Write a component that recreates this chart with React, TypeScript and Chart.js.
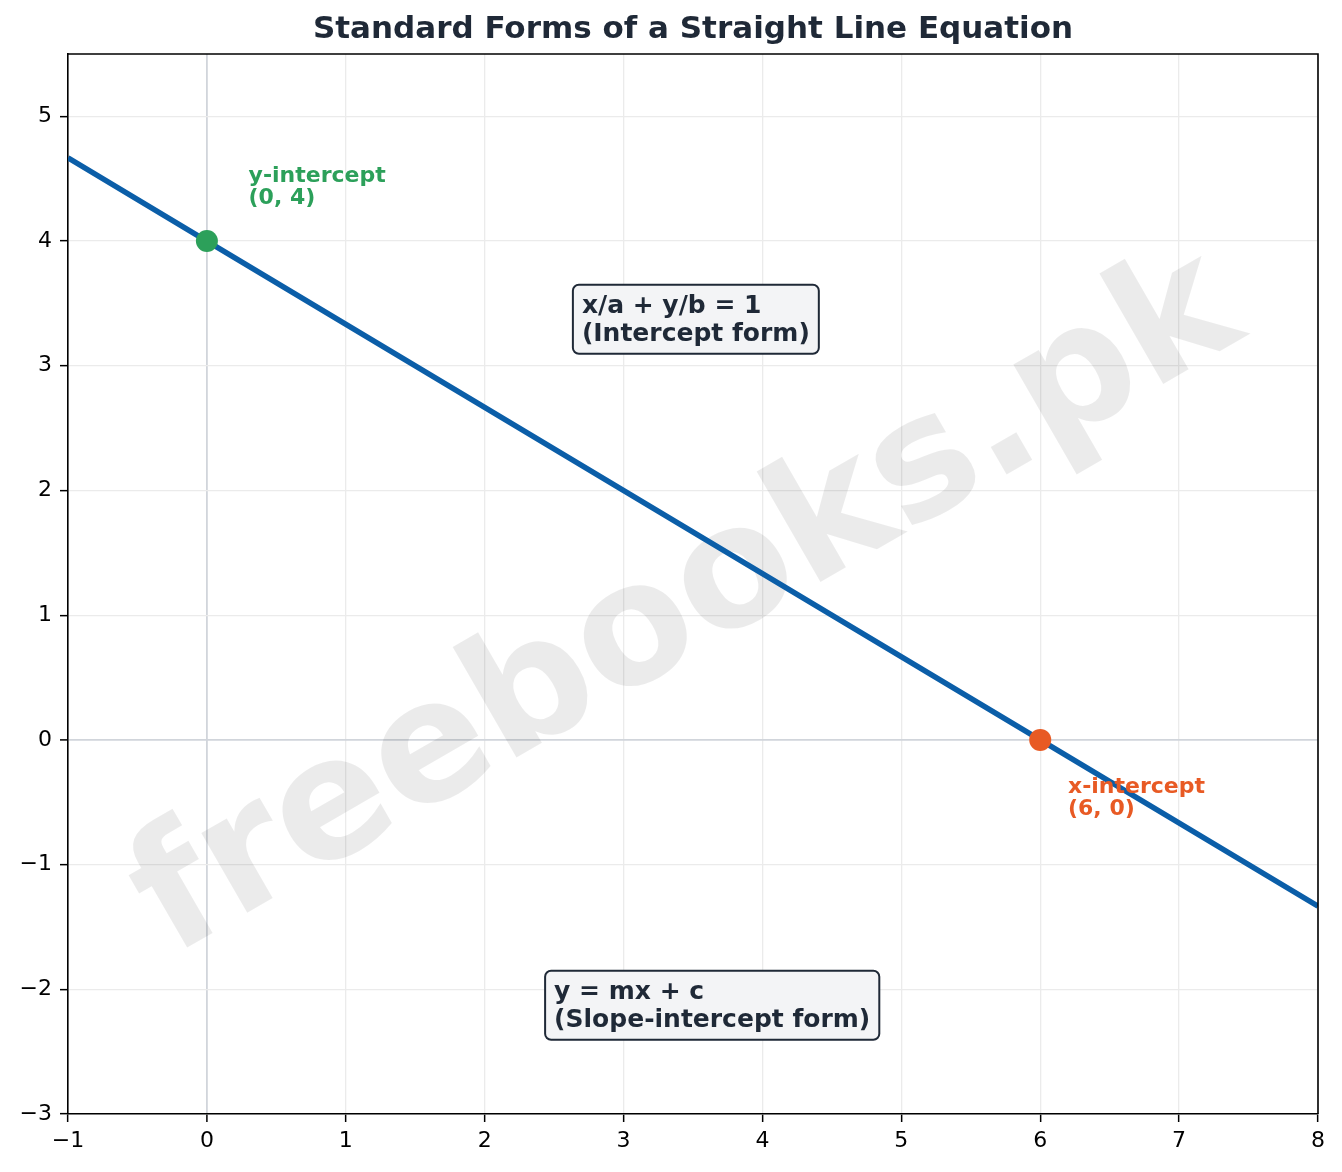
import { useEffect, useRef } from 'react';
import { Chart, registerables, Plugin } from 'chart.js';

Chart.register(...registerables);

// line y = 4 - 2x/3, read at the plot edges and the intercepts
const lineX = [-1, 0, 6, 8];
const lineY = [4.667, 4, 0, -1.333];

const pointX = [0, 6];
const pointY = [4, 0];
const pointColors = ['#2ca05a', '#e85a24'];

const labelText = [['y-intercept', '(0, 4)'], ['x-intercept', '(6, 0)']];
const labelX = [0.3, 6.2];
const labelY = [4.3, -0.6];

const boxText = [['x/a + y/b = 1', '(Intercept form)'], ['y = mx + c', '(Slope-intercept form)']];
const boxX = [2.7, 2.5];
const boxY = [3.2, -2.3];

const xTicks = [-1, 0, 1, 2, 3, 4, 5, 6, 7, 8];
const yTicks = [-3, -2, -1, 0, 1, 2, 3, 4, 5];

const TITLE = 'Standard Forms of a Straight Line Equation';
const FONT = "'DejaVu Sans', sans-serif";
const DARK = '#1f2937';

const fmt = (v: number) => (v < 0 ? '\u2212' + Math.abs(v) : String(v));

const decorPlugin: Plugin = {
    id: 'decor',
    beforeDatasetsDraw(chart) {
        const { ctx, chartArea } = chart;
        // watermark
        ctx.save();
        ctx.beginPath();
        ctx.rect(chartArea.left, chartArea.top, chartArea.right - chartArea.left, chartArea.bottom - chartArea.top);
        ctx.clip();
        ctx.translate(688, 608);
        ctx.rotate(-Math.PI / 6);
        ctx.font = `bold 168px ${FONT}`;
        ctx.fillStyle = 'rgba(0, 0, 0, 0.08)';
        ctx.textAlign = 'center';
        ctx.textBaseline = 'middle';
        ctx.fillText('freebooks.pk', 0, 0);
        ctx.restore();
    },
    afterDatasetsDraw(chart) {
        const { ctx } = chart;
        const xs = chart.scales.x;
        const ys = chart.scales.y;
        ctx.save();
        ctx.textBaseline = 'alphabetic';
        ctx.textAlign = 'left';

        // point labels
        ctx.font = `bold 22px ${FONT}`;
        labelText.forEach((lines, i) => {
            const px = xs.getPixelForValue(labelX[i]);
            const py = ys.getPixelForValue(labelY[i]);
            ctx.fillStyle = pointColors[i];
            lines.forEach((t, j) => {
                ctx.fillText(t, px, py - (lines.length - 1 - j) * 22);
            });
        });

        // formula boxes
        ctx.font = `bold 25px ${FONT}`;
        const lh = 28;
        const pad = 9;
        boxText.forEach((lines, i) => {
            const px = xs.getPixelForValue(boxX[i]);
            const py = ys.getPixelForValue(boxY[i]);
            const w = Math.max(...lines.map(t => ctx.measureText(t).width));
            const top = py - (lines.length - 1) * lh - 19 - pad;
            const bottom = py + 4 + pad;
            ctx.beginPath();
            ctx.roundRect(px - pad, top, w + pad * 2, bottom - top, 6);
            ctx.fillStyle = '#f3f4f6';
            ctx.fill();
            ctx.lineWidth = 2;
            ctx.strokeStyle = DARK;
            ctx.stroke();
            ctx.fillStyle = DARK;
            lines.forEach((t, j) => {
                ctx.fillText(t, px, py - (lines.length - 1 - j) * lh);
            });
        });
        ctx.restore();
    },
    afterDraw(chart) {
        const { ctx, chartArea } = chart;
        ctx.save();
        // top and right spines
        ctx.strokeStyle = '#000';
        ctx.lineWidth = 1.6;
        ctx.beginPath();
        ctx.moveTo(chartArea.left, chartArea.top);
        ctx.lineTo(chartArea.right, chartArea.top);
        ctx.lineTo(chartArea.right, chartArea.bottom);
        ctx.stroke();
        // title
        ctx.font = `bold 31px ${FONT}`;
        ctx.fillStyle = DARK;
        ctx.textAlign = 'center';
        ctx.textBaseline = 'middle';
        ctx.fillText(TITLE, (chartArea.left + chartArea.right) / 2, 30);
        ctx.restore();
    }
};

export default function App() {
    const canvasRef = useRef<HTMLCanvasElement | null>(null);

    useEffect(() => {
        document.body.style.margin = '0';
        if (!canvasRef.current) return;

        const gridColor = (c: any) => (c.tick && c.tick.value === 0 ? '#d1d5db' : '#ebebeb');
        const gridWidth = (c: any) => (c.tick && c.tick.value === 0 ? 1.8 : 1.3);

        const chart = new Chart(canvasRef.current, {
            type: 'scatter',
            data: {
                datasets: [
                    {
                        label: 'intercepts',
                        data: pointX.map((x, i) => ({ x, y: pointY[i] })),
                        backgroundColor: pointColors,
                        borderWidth: 0,
                        pointRadius: 11,
                        order: 0
                    },
                    {
                        label: 'line',
                        data: lineX.map((x, i) => ({ x, y: lineY[i] })),
                        showLine: true,
                        borderColor: '#0b5ea8',
                        borderWidth: 5.5,
                        pointRadius: 0,
                        order: 1
                    }
                ]
            },
            options: {
                responsive: false,
                animation: false,
                devicePixelRatio: 1,
                layout: { padding: { top: 54, right: 24, left: 0, bottom: 0 } },
                plugins: {
                    legend: { display: false },
                    tooltip: { enabled: false },
                    title: { display: false }
                },
                scales: {
                    x: {
                        type: 'linear',
                        min: -1,
                        max: 8,
                        afterBuildTicks: (s: any) => {
                            s.ticks = xTicks.map(v => ({ value: v }));
                        },
                        afterFit: (s: any) => {
                            s.height = 58;
                        },
                        ticks: {
                            callback: (v: any) => fmt(Number(v)),
                            color: '#000',
                            font: { family: FONT, size: 22 },
                            padding: 6,
                            maxRotation: 0
                        },
                        grid: {
                            color: gridColor,
                            lineWidth: gridWidth,
                            tickColor: '#000',
                            tickLength: 8,
                            tickWidth: 1.5
                        },
                        border: { display: true, color: '#000', width: 1.6 }
                    },
                    y: {
                        type: 'linear',
                        min: -3,
                        max: 5.5,
                        afterBuildTicks: (s: any) => {
                            s.ticks = yTicks.map(v => ({ value: v }));
                        },
                        afterFit: (s: any) => {
                            s.width = 68;
                        },
                        ticks: {
                            callback: (v: any) => fmt(Number(v)),
                            color: '#000',
                            font: { family: FONT, size: 22 },
                            padding: 8
                        },
                        grid: {
                            color: gridColor,
                            lineWidth: gridWidth,
                            tickColor: '#000',
                            tickLength: 8,
                            tickWidth: 1.5
                        },
                        border: { display: true, color: '#000', width: 1.6 }
                    }
                }
            },
            plugins: [decorPlugin]
        });

        return () => {
            chart.destroy();
        };
    }, []);

    return (
        <div style={{ width: 1342, height: 1172, background: '#fff' }}>
            <canvas ref={canvasRef} width={1342} height={1172} />
        </div>
    );
}
